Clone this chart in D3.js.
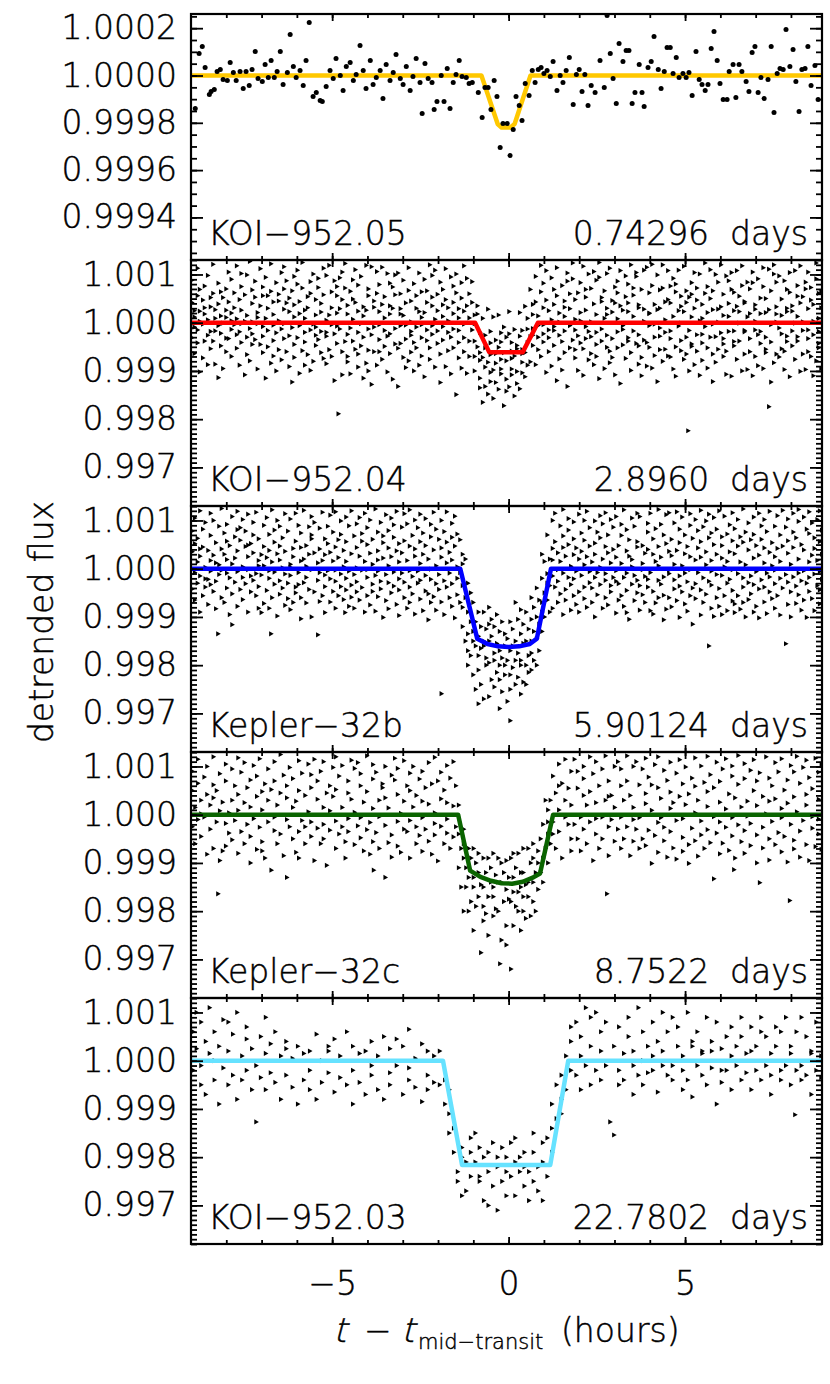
<!DOCTYPE html>
<html><head><meta charset="utf-8">
<script src="https://cdn.jsdelivr.net/npm/d3@7"></script>
<style>
body{margin:0;background:#fff}
svg text{font-family:"DejaVu Sans",sans-serif;font-weight:200;fill:#000;stroke:#000;stroke-width:0.45px}
</style>
</head><body>
<svg id="c" width="830" height="1384"></svg>
<script>
// ---------------- DATA ----------------
const panelNames = ["KOI\u2212952.05","KOI\u2212952.04","Kepler\u221232b","Kepler\u221232c","KOI\u2212952.03"];
const panelPeriods = ["0.74296  days","2.8960  days","5.90124  days","8.7522  days","22.7802  days"];
const modelColors = ["#ffc800","#ff0000","#0000ff","#0a6400","#66e2ff"];
const yTicksTop = [1.0002,1.0000,0.9998,0.9996,0.9994];
const yTickLabelsTop = ["1.0002","1.0000","0.9998","0.9996","0.9994"];
const yTicks = [1.001,1.000,0.999,0.998,0.997];
const yTickLabels = ["1.001","1.000","0.999","0.998","0.997"];
const xTicks = [-5,0,5];
const xTickLabels = ["\u22125","0","5"];

// flux offsets from 1 in ppm; time in hours from mid-transit
const model05 = [[-9,0],[-0.77,0],[-0.31,-205],[-0.2,-220],[0.05,-220],[0.17,-205],[0.62,0],[8.9,0]];
const model04 = [[-9,0],[-0.95,0],[-0.55,-610],[0.4,-610],[0.83,0],[8.9,0]];
const model32b = [[-9,0],[-1.37,0],[-0.89,-1450],[-0.6,-1560],[-0.3,-1610],[0,-1625],[0.3,-1610],[0.6,-1560],[0.8,-1450],[1.2,0],[8.9,0]];
const model32c = [[-9,0],[-1.43,0],[-1.09,-1160],[-0.8,-1290],[-0.5,-1370],[-0.2,-1420],[0.1,-1430],[0.4,-1390],[0.7,-1300],[0.89,-1220],[1.26,0],[8.9,0]];
const model03 = [[-9,0],[-1.86,0],[-1.32,-2160],[1.18,-2160],[1.69,0],[8.9,0]];

// KOI-952.05 points [t, ppm]
const pts05 = [[-8.88,-140],[-8.77,93],[-8.68,123],[-8.6,34],[-8.48,-80],[-8.43,-68],[-8.34,-59],[-8.26,17],[-8.17,25],[-8.09,-17],[-7.97,-21],[-7.89,55],[-7.8,13],[-7.72,-21],[-7.61,17],[-7.52,-55],[-7.44,17],[-7.35,-42],[-7.27,25],[-7.18,101],[-7.1,-13],[-6.98,-25],[-6.9,47],[-6.81,-8],[-6.73,63],[-6.64,-8],[-6.56,17],[-6.47,101],[-6.39,-38],[-6.27,13],[-6.19,173],[-6.1,38],[-6.02,-8],
[-5.91,21],[-5.82,-42],[-5.74,63],[-5.65,224],[-5.54,-89],[-5.45,-72],[-5.34,-106],[-5.28,-110],[-5.17,-47],[-5.06,21],[-4.97,-13],[-4.89,72],[-4.77,0],[-4.69,-63],[-4.6,38],[-4.49,55],[-4.4,-21],[-4.32,4],[-4.21,127],[-4.12,21],[-4.04,-55],[-3.92,63],[-3.84,-38],[-3.75,-8],[-3.64,21],[-3.56,-97],[-3.47,47],[-3.36,-21],[-3.27,13],[-3.19,89],[-3.07,-13],[-2.99,-38],[-2.9,38],[-2.79,-63],[-2.71,-4],[-2.62,72],[-2.51,-30],
[-2.45,-161],[-2.37,51],[-2.28,-13],[-2.17,-30],[-2.11,-144],[-2.03,-110],[-1.91,0],[-1.83,-110],[-1.74,30],[-1.66,-140],[-1.57,-30],[-1.49,4],[-1.4,63],[-1.32,-4],[-1.2,-8],[-1.12,-34],[-1.03,-30],[-0.86,-72],[-0.75,-178],[-0.67,-51],[-0.58,-51],[-0.5,-144],[-0.41,-21],[-0.33,-89],[-0.24,-304],[-0.16,-203],[-0.04,-203],[0.04,-338],[0.13,-228],[0.21,-89],[0.3,-127],[0.38,-190],[0.47,-34],[0.58,-85],[0.67,21],[0.75,-30],[0.84,25],[0.92,34],[1.0,8],[1.09,21],[1.18,-4],[1.26,59],[1.37,-63],[1.46,0],[1.54,-30],[1.63,21],[1.72,76],[1.83,-123],[1.92,4],[2.0,25],[2.08,-68],[2.16,4],[2.25,-127],[2.34,-42],[2.45,-72],[2.59,63],[2.71,-51],
[2.79,254],[2.88,93],[2.96,-13],[3.05,-118],[3.13,135],[3.24,59],[3.33,106],[3.41,106],[3.5,-118],[3.58,-72],[3.7,47],[3.78,-72],[3.84,-131],[3.95,34],[4.04,59],[4.12,165],[4.24,25],[4.32,-55],[4.41,17],[4.49,118],[4.58,118],[4.66,8],[4.75,76],[4.83,-8],[4.94,8],[5.03,-8],[5.11,13],[5.2,-85],[5.31,101],[5.4,-17],[5.48,-38],[5.57,-63],[5.65,-38],[5.74,114],[5.82,186],[5.91,63],[5.99,-34],[6.08,-101],[6.19,-101],[6.25,17],[6.36,47],[6.44,-93],[6.53,47],[6.61,17],[6.73,-25],[6.81,-68],[6.9,97],[6.98,123],[7.07,-72],[7.15,-8],[7.24,-97],[7.35,-17],[7.44,123],[7.52,-156],[7.61,8],[7.69,30],[7.78,25],[7.86,194],[7.97,38],[8.06,110],[8.14,-25],[8.23,-152],[8.31,25],[8.4,30],[8.48,123],[8.57,-42],[8.68,42],[8.77,-101]];

// other panels: groups of points sharing a time [t, [ppm, ...]]
const cols04 = [
[-8.97,[420,-310,880]],[-8.9,[120,-640,250,-90]],[-8.81,[560,-150,1130,-420]],[-8.75,[240,-1020,30,690]],[-8.66,[-30,470,-730]],[-8.61,[-380,180,760,310]],[-8.52,[-260,980,60,-870]],[-8.44,[330,-540,-180,520]],[-8.37,[-380,610,1210]],[-8.31,[-170,270,-860,90]],[-8.22,[-60,390,820,-1140]],[-8.15,[-480,-220,140,640]],[-8.09,[-950,520,-10]],[-8.0,[-600,700,260,-320,110]],[-7.93,[1050,-330,430]],[-7.85,[200,-140,900,-700,40]],[-7.77,[310,620,-40]],[-7.7,[-250,1180,-530,80]],[-7.62,[-880,480,-190]],[-7.57,[750,-410,260,-20,1020]],[-7.47,[-1080,30,580]],[-7.41,[990,-300,-660,150]],[-7.33,[1270,-120,-790]],[-7.26,[400,680,-230,20,-450]],[-7.18,[-350,860,530]],[-7.11,[-20,-960,210,110]],[-7.03,[-450,1120,350]],[-6.96,[-80,-620,740,-280,560]],[-6.88,[90,-1150,940]],[-6.82,[560,-160,-500,300]],[-6.73,[-840,650,1220]],[-6.66,[-50,-370,170,-690,430]],[-6.58,[830,-210,-1000]],[-6.51,[450,40,590,-560]],[-6.43,[1040,-130,-770]],[-6.36,[280,700,-330,1160,-20]],[-6.29,[-600,410,870]],[-6.21,[-910,230,-270,510]],[-6.13,[-1230,660,-100]],[-6.07,[120,-450,960,370,-720]],[-5.98,[800,-310,1090]],[-5.92,[190,-1050,-60,440]],[-5.84,[-580,720,1250]],[-5.77,[-200,260,-880,-400,90]],[-5.69,[540,-660,310]],[-5.61,[850,-150,-990,610]],[-5.53,[-30,1010,-800]],[-5.46,[-470,-260,160,480,-90]],[-5.39,[730,-350,920]],[-5.31,[220,-620,-180,400]],[-5.24,[-740,580,1130]],[-5.16,[50,-200,-850,980,-280]],[-5.08,[160,-560,1190]],[-5.01,[640,-40,-700,310]],[-4.93,[-230,870,-1200]],[-4.86,[-430,200,560,-70,750]],[-4.82,[-1890]],[-4.78,[930,-130,290]],[-4.71,[-1080,480,-600,1050]],[-4.63,[-390,720,1230]],[-4.56,[180,-810,-240,360,-700]],[-4.48,[-110,650,-1060]],[-4.41,[490,70,-380,890]],[-4.34,[-550,1100,420]],[-4.26,[240,-920,-200,-650,780]],[-4.18,[-20,960,-480]],[-4.11,[-1150,330,-300,140]],[-4.03,[-840,1190,260]],[-3.97,[560,-130,-570,-1000,700]],[-3.88,[-250,1160,-1280]],[-3.81,[450,-600,-90,320]],[-3.73,[610,1060,-880]],[-3.66,[-350,-40,-600,230,790]],[-3.58,[380,1150,-760]],[-3.51,[-160,-490,100,540]],[-3.43,[-280,1020,-1020]],[-3.36,[-640,350,-230,820,180]],[-3.28,[740,-1170,300]],[-3.21,[-440,580,990,-120]],[-3.13,[-530,-1320,1030]],[-3.06,[290,600,-60,-430,180]],[-2.98,[150,-720,880]],[-2.91,[410,-340,-50,-930]],[-2.83,[670,1140,-790]],[-2.76,[-260,-610,20,450,-180]],[-2.68,[-410,810,-1000]],[-2.61,[300,-90,560,-520]],[-2.53,[230,1030,-880]],[-2.46,[-690,-310,110,640,-40]],[-2.38,[900,-1120,210]],[-2.31,[-150,420,660,-370]],[-2.23,[-520,1200,-760]],[-2.16,[-60,350,530,-240,980]],[-2.08,[70,-920,1090]],[-2.01,[590,-430,250,-170]],[-1.93,[-650,840,-1240]],[-1.86,[370,-80,130,-360,690]],[-1.78,[480,1120,-910]],[-1.71,[-580,-200,310,40]],[-1.63,[-300,950,-1060]],[-1.56,[760,190,-520,-130,420]],[-1.48,[-1490,620,1010]],[-1.41,[-160,290,-730,-410,100]],[-1.33,[-940,830,510]],[-1.26,[-30,-310,240,-600,1180]],[-1.18,[350,-1050,920]],[-1.11,[-700,100,-380,600]],
[-1.03,[-150,420,850]],[-0.96,[-700,160,-380,-1000,-20]],[-0.88,[-500,180,350]],[-0.81,[-1150,-780,-200,-1350,-620]],[-0.73,[-720,90,-1650]],[-0.66,[-1320,-260,-920,-520]],[-0.58,[-820,280,-1480]],[-0.51,[-420,-1030,-180,-660,-1220]],[-0.43,[-980,120,-1570]],[-0.36,[-640,-1240,-360,-840]],[-0.28,[-510,160,-1380]],[-0.21,[-1060,-210,-760,-400,-960]],[-0.13,[-90,-1720,-620]],[-0.06,[-1170,-1420,-300,-790]],[0.02,[-230,230,-1330]],[0.09,[-740,-410,-960,-590,-1080]],[0.17,[-140,-1520,-690]],[0.24,[-1260,-470,-1010,-540]],[0.32,[-280,210,-1370]],[0.39,[-820,-560,-1040,-160,-640]],[0.47,[-620,340,-1120]],[0.54,[-130,-880,-410,90]],[0.62,[-290,690,-810]],[0.69,[170,-470,-120,380,-260]],[0.77,[430,-870,960]],[0.84,[-300,140,-560,-60]],
[0.92,[640,1190,-700]],[0.99,[-40,310,-230,820,-400]],[1.07,[-1030,470,1080]],[1.14,[-150,250,-600,-310]],[1.22,[60,-900,930]],[1.29,[690,-80,380,-470,-160]],[1.37,[-1200,560,1140]],[1.44,[200,-260,-750,10]],[1.52,[-390,770,-980]],[1.59,[-620,130,450,-170,320]],[1.67,[860,-1320,1030]],[1.74,[-520,290,600,-60]],[1.82,[-360,910,1240]],[1.89,[70,-730,-150,480,-560]],[1.97,[-270,-990,620]],[2.04,[830,210,-420,40]],[2.12,[1170,-540,-1090]],[2.19,[-330,530,690,-80,260]],[2.27,[-180,1010,-770]],[2.34,[-640,20,710,-290]],[2.42,[1060,-870,390]],[2.49,[-450,170,880,-200,-700]],[2.57,[1250,-1160,940]],[2.64,[-130,440,520,-380]],[2.72,[90,660,-950]],[2.79,[-510,300,170,-260,1020]],[2.87,[-590,1130,-830]],[2.94,[220,460,-330,-720]],[3.02,[410,740,-1080]],[3.09,[-190,80,860,-520,620]],[3.17,[-1260,1080,350]],[3.24,[-60,-460,260,-140]],[3.32,[540,970,-740]],[3.39,[-380,230,800,-310,410]],[3.47,[-620,1200,-990]],[3.54,[-170,570,130,720]],[3.62,[-430,960,1040]],[3.69,[-480,310,-860,-250,370]],[3.77,[-720,690,-1100]],[3.84,[30,280,-360,1090]],[3.92,[-410,1150,-900]],[3.99,[200,620,-60,-510,190]],[4.07,[-940,770,1210]],[4.14,[-300,380,-680,-30]],[4.22,[270,-1220,990]],[4.29,[680,-280,-110,-560,300]],[4.37,[720,-800,1200]],[4.44,[430,-200,-550,60]],[4.52,[-690,480,1080]],[4.59,[-330,-710,410,-170,760]],[4.67,[-960,130,920]],[4.74,[800,-500,640,-1110]],[4.82,[-70,250,1090]],[4.89,[-580,340,-10,550,-370]],[4.97,[230,-760,1170]],[5.04,[660,-300,420,-650]],[5.09,[-2240]],[5.12,[-160,530,-1000]],[5.19,[120,590,-440,830,-490]],[5.27,[300,-870,1040]],[5.34,[-250,470,-590,720]],[5.42,[40,-1090,1010]],[5.49,[380,-240,-420,90,-780]],[5.57,[610,-80,1240]],[5.64,[-520,210,-940,750]],[5.72,[-300,500,1100]],[5.79,[-650,-30,270,-1220,660]],[5.87,[-290,1000,-820]],[5.94,[10,-550,280,840]],[6.02,[330,-210,1200]],[6.09,[-440,150,-700,590,-330]],[6.17,[970,-590,-1070]],[6.24,[400,-180,870,130]],[6.32,[690,-1110,1040]],[6.39,[-390,630,-170,250,-480]],[6.47,[340,1080,-760]],[6.54,[-10,550,-380,230]],[6.62,[770,1180,-1000]],[6.69,[-190,410,-650,-160,440]],[6.77,[120,840,-970]],[6.84,[700,-330,-600,190]],[6.92,[1050,-1100,830]],[6.99,[-150,370,-700,30,280]],[7.07,[-250,910,-890]],[7.14,[-430,190,510,-180]],[7.22,[1140,-950,750]],[7.29,[-620,210,-300,500,-550]],[7.38,[-1740,1110,270]],[7.44,[-40,-1230,660,-400]],[7.52,[1010,-830,1200]],[7.59,[10,-650,180,840,330]],[7.67,[-110,-710,970]],[7.74,[-540,150,490,-230]],[7.82,[-590,870,-970]],[7.89,[300,-280,230,690,-390]],[7.97,[630,-1120,1040]],[8.04,[-170,350,-480,240]],[8.12,[-10,1080,-760]],[8.19,[550,-380,130,770,-290]],[8.27,[410,1180,-1010]],[8.34,[-650,-160,540,20]],[8.42,[700,840,-970]],[8.49,[-330,-600,290,1050,-150]],[8.57,[470,-700,730]],[8.64,[30,-1100,380,-250]],[8.72,[910,1240,-790]],[8.79,[-430,90,610,-180,-520]],[8.86,[310,-950,650]]];

const cols32b = [
[-8.96,[350,-420,780]],[-8.89,[-80,520,-650,1050]],[-8.81,[140,-300,630]],[-8.74,[-900,260,1200,-150,410]],[-8.66,[450,-560,820]],[-8.59,[30,-380,960,-210]],[-8.51,[-220,380,-740]],[-8.44,[1150,170,-50,690,-330]],[-8.36,[-470,280,1000]],[-8.29,[-260,540,-830,120]],[-8.23,[-1350]],[-8.2,[80,880,-120]],[-8.13,[410,-600,1250,-30]],[-8.05,[300,-700,740]],[-7.98,[190,-400,920,-90,570]],[-7.9,[-950,480,-190]],[-7.83,[-1160,1080,100,-520]],[-7.75,[660,-280,220]],[-7.68,[1190,-780,370,-60,810]],[-7.6,[850,-430,590]],[-7.53,[-180,1020,40,-640]],[-7.45,[460,-310,780]],[-7.38,[-900,250,1130,-20,490]],[-7.3,[-150,520,-480]],[-7.23,[700,-240,330,960]],[-7.15,[-100,1170,-560]],[-7.08,[170,-370,620,-820,60]],[-7.0,[-910,290,-130]],[-6.93,[900,-720,460,60]],[-6.85,[1060,-450,230]],[-6.78,[-820,710,-200,380,-40]],[-6.73,[-1350]],[-6.7,[1220,-600,140]],[-6.63,[-320,800,-70,550]],[-6.55,[-980,310,1000]],[-6.48,[-250,470,-530,180,880]],[-6.4,[-400,20,640]],[-6.33,[-760,1140,-110,360]],[-6.25,[-620,780,-300]],[-6.18,[90,-850,1030,30,-140]],[-6.1,[420,-700,250]],[-6.03,[-500,570,-380,1150]],[-5.95,[-80,900,-330]],[-5.88,[160,-600,740,-1040,440]],[-5.8,[200,1210,-290]],[-5.73,[480,-710,50,-180]],[-5.65,[870,-430,300]],[-5.58,[-1000,620,1080,-20,700]],[-5.5,[-480,330,960]],[-5.4,[-1370,-240,120]],[-5.35,[-680,840,-80,410]],[-5.27,[-560,1170,170]],[-5.2,[-370,620,-910,290,-130]],[-5.12,[880,-40,520]],[-5.05,[-210,1110,-690,340]],[-4.97,[-470,160,760]],[-4.9,[-30,-820,450,1180,-260]],[-4.82,[600,-560,230]],[-4.75,[-110,990,-370,710]],[-4.67,[-640,380,40]],[-4.63,[-910]],[-4.6,[1070,-200,560,-440,150]],[-4.52,[-780,890,-50]],[-4.45,[310,-340,1200,-590]],[-4.37,[680,-120,-820]],[-4.3,[440,20,-480,930,-270]],[-4.22,[-650,1060,260]],[-4.15,[-30,730,-390,570]],[-4.07,[-900,150,1150]],[-4.0,[-180,500,-560,850,-20]],[-3.92,[320,-750,1010]],[-3.85,[-320,610,90,-470]],[-3.77,[1240,-140,-880]],[-3.7,[370,-580,760,-50,180]],[-3.62,[-260,960,-420]],[-3.55,[540,-1010,220,680]],[-3.47,[-120,1120,-660]],[-3.4,[430,-290,790,-830,60]],[-3.32,[-500,1050,250]],[-3.25,[-70,650,-360,910]],[-3.17,[-740,370,1190]],[-3.1,[-210,520,-970,140,-440]],[-3.02,[860,-90,330]],[-2.95,[-600,1140,-280,580]],[-2.87,[170,-820,930]],[-2.8,[-380,470,-40,1220,-700]],[-2.72,[-160,690,-520]],[-2.65,[1010,260,-940,410]],[-2.57,[-300,850,-50]],[-2.5,[-630,560,1130,-240,110]],[-2.42,[-870,300,740]],[-2.35,[-140,1040,-460,480]],[-2.27,[-520,200,-1060]],[-2.2,[660,-220,920,-10,-700]],[-2.12,[390,-580,1170]],[-2.05,[-310,820,60,-860]],[-1.97,[-120,610,-430]],[-1.9,[-2590,240,1000,-690,430]],[-1.82,[-250,770,-950]],[-1.75,[120,1180,-380,550]],[-1.67,[-600,340,-90]],[-1.6,[940,-780,180,650,-310]],[-1.52,[-1020,470,1090]],[-1.45,[-200,720,-540,40]],
[-1.37,[-80,600,-700]],[-1.3,[-350,-800,100,-1200,300]],[-1.22,[-600,-1500,200]],[-1.15,[-1700,-900,-300,-2000,-1350]],[-1.07,[-1100,-1800,-500]],[-1.0,[-1500,-2200,-1300,-700]],[-0.93,[-2500,-1100,-1600]],[-0.85,[-1800,-2100,-900,-1400,-2800]],[-0.78,[-1200,-1650,-2400]],[-0.7,[-1600,-900,-1500,-2700]],[-0.63,[-2000,-1250,-1850]],[-0.55,[-1500,-2650,-1150,-1950,-800]],[-0.48,[-1400,-2300,-1050]],[-0.4,[-1900,-1750,-2450,-1200]],[-0.33,[-2150,-1550,-950]],[-0.25,[-2300,-1700,-2000,-2900,-1300]],[-0.18,[-1850,-1100,-2550]],[-0.1,[-2000,-1600,-2200,-1350]],[-0.03,[-2750,-1450,-1900]],[0.05,[-3150,-1100,-2200,-1700,-2500]],[0.12,[-1600,-2050,-1250]],[0.2,[-1500,-700,-2400,-1900]],[0.27,[-2250,-1050,-1750]],[0.35,[-1900,-2600,-1350,-850,-2000]],[0.42,[-1550,-2350,-1150]],[0.5,[-2400,-1500,-900,-2000]],[0.57,[-1250,-1800,-2150]],[0.65,[-1750,-600,-1500,-2100,-1050]],[0.72,[-1300,-1900,-800]],[0.8,[-1000,-1450,-400,-2000]],[0.87,[-1150,-650,-1700]],[0.95,[-700,-200,-900,300,-1300]],[1.02,[-500,-1000,150]],[1.1,[-300,700,-650,-100]],[1.17,[-900,200,-350]],
[1.25,[420,-150,1000,-820,180]],[1.32,[560,-380,1150]],[1.4,[-20,-700,330,-260]],[1.47,[890,-520,150]],[1.55,[680,-950,440,-90,1230]],[1.62,[-430,260,-650]],[1.7,[800,-180,500,1040]],[1.77,[-860,50,-330]],[1.85,[620,-560,290,970,-210]],[1.92,[-740,430,-50]],[2.0,[1130,-480,200,-900]],[2.07,[740,-140,360]],[2.15,[-620,1000,80,-380,590]],[2.22,[-800,250,1190]],[2.3,[-290,470,-60,850]],[2.37,[-700,140,-400]],[2.45,[990,-180,530,-1000,300]],[2.52,[-80,760,-540]],[2.6,[1100,30,-330,640]],[2.67,[-820,200,930]],[2.75,[-240,460,-600,1160,-100]],[2.82,[330,-750,700]],[2.9,[-350,120,1020,-480]],[2.97,[400,-180,860]],[3.05,[-920,240,-260,1080,-40]],[3.12,[-650,480,-310]],[3.2,[920,110,-560,690]],[3.27,[-180,1220,-780]],[3.35,[-910,370,-90,810,-450]],[3.42,[260,-1050,600]],[3.5,[40,1050,-320,190]],[3.57,[-660,880,-140]],[3.65,[450,-500,1150,-240,560]],[3.72,[-860,1080,-350]],[3.8,[-20,480,-540,110]],[3.87,[-700,320,-160]],[3.95,[940,-380,760,-220,400]],[4.02,[-870,1150,-80]],[4.1,[620,-940,300,-470]],[4.17,[830,150,-710]],[4.25,[1230,-240,460,-600,60]],[4.32,[920,-320,240]],[4.4,[-550,700,-1060,-170]],[4.47,[520,-840,1120]],[4.55,[-30,360,-600,1160,-100]],[4.62,[270,-790,610]],[4.7,[-420,90,950,-230]],[4.77,[1180,-660,380]],[4.85,[-150,540,-1010,820,-360]],[4.92,[60,-480,1070]],[5.0,[-730,310,700,-90]],[5.07,[460,-270,-880]],[5.15,[1140,-20,-560,250,900]],[5.22,[-400,630,-1150]],[5.3,[180,-310,1020,-620]],[5.37,[790,-80,430]],[5.45,[-960,240,-440,1210,560]],[5.52,[-190,870,-700]],[5.6,[350,-530,80,990]],[5.68,[-1600,-260,640,1130]],[5.75,[-820,170,-340,740,-50]],[5.82,[500,-990,1060]],[5.9,[-120,820,-600,300]],[5.97,[1200,-410,-780]],[6.05,[220,-140,660,-950,480]],[6.12,[-560,1090,40]],[6.2,[-300,720,-870,150]],[6.27,[910,-220,350]],[6.35,[-670,1160,-20,-450,580]],[6.41,[-910,310,-730,830]],[6.5,[-100,470,-560,1020]],[6.57,[-840,660,140]],[6.65,[-380,1240,-190,550,-700]],[6.72,[80,-1000,760]],[6.8,[-290,390,950,-640]],[6.87,[600,-150,-520]],[6.95,[1070,-900,220,-330,710]],[7.02,[-60,480,-780]],[7.1,[1150,-420,280,-1020]],[7.17,[-230,610,890]],[7.25,[-690,120,-380,1020,430]],[7.32,[-930,770,-90]],[7.4,[340,-480,1190,-170]],[7.47,[-620,540,60]],[7.55,[880,-310,-820,250,-30]],[7.62,[1100,-560,420]],[7.7,[-200,700,-960,150]],[7.77,[470,-400,1210]],[7.86,[-1556,-120,860]],[7.92,[-740,320,1030,-280,580]],[8.0,[-480,90,-1000]],[8.07,[760,-170,440,1150]],[8.15,[-360,-720,640]],[8.22,[200,980,-540,-90,1230]],[8.3,[-860,500,-250]],[8.37,[1070,-40,390,-650]],[8.45,[-300,820,-1010]],[8.52,[140,-470,730,1180,-180]],[8.6,[-620,280,950]],[8.67,[-110,640,-870,420]],[8.75,[1020,-350,170]],[8.82,[-730,560,-60,1200,-440]],[8.88,[300,-220,800]]];

const cols32c = [
[-8.96,[500,-250,900]],[-8.88,[150,-600]],[-8.8,[650,-100,1150]],[-8.71,[300,-450,20]],[-8.62,[780,-50]],[-8.54,[420,-820,1000]],[-8.45,[200,-300]],[-8.36,[620,-700,350,1200]],[-8.27,[-150,500]],[-8.23,[-1640]],[-8.18,[-950,80,850]],[-8.1,[-750,260]],[-8.01,[1050,-180,-650,700]],[-7.92,[40,-380]],[-7.83,[950,300,-520]],[-7.75,[600,-120]],[-7.66,[1180,-800,420,90]],[-7.57,[-350,880]],[-7.48,[-600,250,1080]],[-7.4,[-200,560]],[-7.31,[-1000,160,720,-450]],[-7.22,[1020,-80]],[-7.13,[380,-720,800]],[-7.05,[-260,1160]],[-6.98,[-750,100,-560,480]],[-6.9,[-900,640]],[-6.81,[-150,950,300]],[-6.72,[-1150,520]],[-6.63,[-330,1100,-50,700]],[-6.55,[-600,200]],[-6.46,[1250,-400,450]],[-6.37,[-850,820]],[-6.28,[-100,350,-1300,600]],[-6.2,[-250,980]],[-6.11,[150,-500,750]],[-6.02,[-780,280]],[-5.94,[1120,-350,500,-900]],[-5.85,[860,-120]],[-5.76,[-600,400,-250]],[-5.67,[1050,60]],[-5.59,[-450,830,-150,560]],[-5.5,[-950,1150]],[-5.41,[320,-280,700]],[-5.32,[-600,900]],[-5.24,[-200,1100,150,-500]],[-5.15,[450,-1050]],[-5.06,[600,80,-320]],[-4.97,[980,380]],[-4.89,[-700,1200,-130,520]],[-4.8,[-400,800]],[-4.71,[-250,150,1020]],[-4.62,[-560,-900]],[-4.54,[450,-80,700,-350]],[-4.45,[1130,320]],[-4.36,[-620,960,50]],[-4.27,[-230,1080]],[-4.19,[-480,600,-60,850]],[-4.1,[-750,260]],[-4.01,[1220,-310,480]],[-3.92,[-820,-160]],[-3.84,[740,-560,1040,130]],[-3.82,[-1150]],[-3.75,[-370,880]],[-3.66,[-700,300,-40]],[-3.57,[640,560]],[-3.49,[-1300,1000,-220,350]],[-3.4,[-580,140]],[-3.31,[-420,820,-880]],[-3.22,[1170,720]],[-3.14,[-140,420,-650,960]],[-3.05,[30,-780]],[-2.96,[280,1120,-300]],[-2.87,[600,-350]],[-2.79,[500,-900,860,-120]],[-2.7,[1000,160]],[-2.61,[-600,400,-250]],[-2.52,[740,-430]],[-2.44,[900,-760,280,-60]],[-2.35,[560,-300]],[-2.26,[1080,-550,220]],[-2.17,[-820,640]],[-2.09,[-180,1190,40,-420]],[-2.0,[700,-960]],[-1.91,[330,-240,880]],[-1.82,[-600,510]],[-1.74,[-90,1020,-380,250]],[-1.65,[-700,760]],[-1.56,[180,-460,1100]],[-1.49,[-250,600]],
[-1.41,[-400,-1100,200]],[-1.34,[-700,-1500]],[-1.27,[-300,-900,-2000,-600]],[-1.2,[-1500,-1100]],[-1.13,[-1300,-2000,-700]],[-1.06,[-1800,-900]],[-0.99,[-1300,-2400,-700,-1500]],[-0.92,[-1900,-1000]],[-0.85,[-1200,-1700,-800]],[-0.78,[-2860,-1450]],[-0.71,[-2200,-1500,-900,-1900]],[-0.64,[-1200,-2050]],[-0.57,[-900,-2500,-1700]],[-0.5,[-1100,-1400]],[-0.43,[-1700,-2100,-800,-1500]],[-0.36,[-1250,-1950]],[-0.29,[-2000,-1400,-900]],[-0.24,[-3090]],[-0.2,[-1400,-2600,-1000]],[-0.13,[-1800,-1200]],[-0.06,[-2300,-1550,-2700,-950]],[0.01,[-1750,-1300]],[0.07,[-3200,-1800,-900]],[0.14,[-1300,-2300,-1600,-800]],[0.21,[-1900,-1100]],[0.28,[-1600,-800,-2000]],[0.35,[-1200,-1500,-2400]],[0.42,[-2000,-1200,-1700,-700]],[0.49,[-1450,-2150]],[0.56,[-1700,-700,-1400]],[0.63,[-2100,-1000]],[0.7,[-1400,-900,-600,-1800]],[0.77,[-1200,-2000]],[0.84,[-1550,-750,-1000]],[0.91,[-500,-1200]],[0.98,[-200,-900,-1400]],[1.05,[-700,300]],[1.12,[-400,-1000,100,-150]],[1.19,[300,-600]],[1.26,[-400,800,-150]],
[1.34,[450,-700]],[1.43,[1050,100,-350,600]],[1.52,[650,-900]],[1.61,[300,-50,1150]],[1.7,[-200,550]],[1.78,[-500,900,-750,200]],[1.87,[1150,-200]],[1.96,[550,-500,900]],[2.05,[-50,-750]],[2.13,[400,1000,-300,750]],[2.22,[-600,200]],[2.31,[1200,-150,480]],[2.4,[-950,850]],[2.48,[-400,250,1100,-80]],[2.57,[-700,600]],[2.66,[-50,950,-500]],[2.75,[300,1220]],[2.79,[-1640]],[2.84,[-250,700,-850,380]],[2.92,[400,-100]],[3.01,[1000,-550,150]],[3.1,[-300,1100]],[3.19,[-700,600,-50,950]],[3.27,[-500,300]],[3.36,[1220,-250,700]],[3.45,[-850,400]],[3.54,[-100,1000,-550,150]],[3.62,[-300,1100]],[3.71,[-700,620,-60]],[3.8,[950,-500]],[3.89,[230,1170,-640,440]],[3.97,[-320,780]],[4.06,[-1010,90,620]],[4.15,[1040,-430]],[4.24,[-160,560,-780,1200]],[4.32,[340,-60]],[4.41,[-540,920,-260]],[4.5,[710,-880]],[4.59,[130,1090,-350,470]],[4.67,[-690,250]],[4.76,[860,-120,-920]],[4.85,[1140,380]],[4.94,[-470,-80,640,-760]],[5.02,[990,210]],[5.11,[-620,430,-1010]],[5.2,[760,-280]],[5.29,[1180,-540,40,590]],[5.37,[-860,300]],[5.46,[-130,1010,-420]],[5.55,[670,-700]],[5.64,[170,-310,1210,480]],[5.72,[-580,830]],[5.82,[-1330,-40,560]],[5.9,[1090,-380]],[5.99,[-810,260,690,-150]],[6.07,[950,-590]],[6.16,[-260,1160,120]],[6.25,[-740,430]],[6.34,[800,-60,-440,1010]],[6.39,[-1140]],[6.42,[-900,350]],[6.51,[630,1230,-210]],[6.6,[-560,160]],[6.69,[1060,-330,750,-800]],[6.77,[280,-30]],[6.86,[-640,920,-180]],[6.95,[500,1140]],[7.04,[-1000,190,-420,700]],[7.12,[-1410,870]],[7.21,[-260,380,-690]],[7.3,[1200,20]],[7.39,[-500,760,-940,280]],[7.47,[600,-140]],[7.56,[1080,-620,330]],[7.65,[-370,890]],[7.74,[-770,130,1160,-60]],[7.82,[510,-450]],[7.91,[-980,720,240]],[7.97,[-1780]],[8.0,[1020,-200]],[8.09,[-530,370,890,-710]],[8.17,[60,1210]],[8.26,[-340,650,-880]],[8.35,[980,-120]],[8.44,[-620,420,1130,200]],[8.52,[-950,770]],[8.61,[-280,540,-40]],[8.7,[1170,-660]],[8.79,[320,-400,880,-90]],[8.87,[-720,1050]]];

const cols03 = [
[-8.93,[600,-200]],[-8.84,[1000,250]],[-8.71,[-500,800,-100]],[-8.58,[400,-700]],[-8.47,[1100,150]],[-8.33,[0,-400,600]],[-8.2,[-900,300]],[-8.08,[-150,850]],[-7.94,[800,-500,200]],[-7.81,[-300,550]],[-7.69,[-800,1000]],[-7.55,[100,-400]],[-7.42,[450,-200,700]],[-7.27,[-600,250]],[-7.15,[-1270,-100]],[-7.02,[500,-350]],[-6.88,[150,-600,900]],[-6.74,[350,-250]],[-6.61,[600,-450]],[-6.45,[100,-800]],[-6.3,[250,-300,400]],[-6.12,[-550,50]],[-5.97,[-900,300]],[-5.8,[-400,150]],[-5.63,[-200,-600,200]],[-5.44,[550,-800]],[-5.29,[0,-450]],[-5.1,[300,-250,200]],[-4.93,[-650,450]],[-4.77,[-350,100]],[-4.58,[-500,600]],[-4.41,[-200,-900,300]],[-4.22,[-450,150]],[-4.05,[-700,200]],[-3.88,[-100,400,-300]],[-3.7,[-600,100]],[-3.53,[-800,500]],[-3.36,[-250,250,-500]],[-3.17,[-100,450]],[-2.99,[-700,300]],[-2.82,[-150,650,-400]],[-2.64,[-550,50]],[-2.45,[350,-850]],[-2.29,[-300,200,-600]],[-2.11,[100,-450]],
[-1.95,[-500,200]],[-1.8,[-900,-400]],[-1.68,[-1100,-600,-1500]],[-1.55,[-1900,-1400]],[-1.44,[-2300,-2500]],[-1.32,[-1800,-2000,-2800]],[-1.2,[-2700,-2100]],[-1.07,[-1600,-2400,-1900]],[-0.94,[-2100,-1500]],[-0.82,[-2500,-2400,-1800]],[-0.7,[-2900,-2000]],[-0.57,[-3000,-1900,-2300]],[-0.44,[-2600,-1700]],[-0.31,[-2000,-2200,-3100]],[-0.18,[-1800,-2500]],[-0.06,[-2000,-2800,-2300]],[0.07,[-1700,-2400]],[0.19,[-2100,-2800,-1600]],[0.32,[-2300,-2000]],[0.45,[-2600,-1900,-2200]],[0.58,[-2300,-2900]],[0.71,[-1500,-1900,-2500]],[0.84,[-2200,-2700]],[0.97,[-1700,-2100,-2900]],[1.1,[-2400,-1600]],[1.23,[-1400,-1900,-900]],[1.36,[-1200,-500]],[1.5,[-800,-300,-1100]],[1.63,[-600,100]],
[1.77,[400,-200,700]],[1.92,[-300,800]],[2.05,[100,-600,500]],[2.19,[-100,1100]],[2.33,[-500,300,900]],[2.48,[-200,1000]],[2.62,[-400,200,600]],[2.76,[-100,800]],[2.88,[-1270]],[2.99,[-1540,300]],[3.13,[-200,700,-500]],[3.27,[-400,150]],[3.4,[900,500]],[3.54,[-700,200,-100]],[3.68,[-300,1100]],[3.81,[0,600,-500]],[3.95,[300,-250]],[4.09,[-200,800,100]],[4.23,[400,-650]],[4.37,[-100,1000,200]],[4.51,[-300,600]],[4.65,[-400,900,-100]],[4.8,[300,700]],[4.94,[-200,-600,100]],[5.08,[1000,-400]],[5.21,[400,-750,300]],[5.35,[-100,600]],[5.49,[200,-300,150]],[5.62,[900,-500]],[5.76,[200,-150,400]],[5.9,[-900,800]],[6.04,[-200,250,-450]],[6.18,[500,-200]],[6.32,[700,100,-600]],[6.46,[300,-100]],[6.6,[900,-400,500]],[6.74,[-250,150]],[6.88,[700,-600,200]],[7.02,[300,-200]],[7.16,[600,-400,900]],[7.3,[-100,500]],[7.44,[-300,150,-700]],[7.58,[700,300]],[7.72,[-200,600,-400]],[7.86,[900,-100]],[8.0,[-500,150,300]],[8.12,[-1120]],[8.16,[-200,600]],[8.3,[-400,900,-100]],[8.44,[500,-300]],[8.58,[150,-700,200]],[8.72,[-200,800]],[8.86,[100,-350]]];

// ---------------- LAYOUT ----------------
const svg = d3.select("#c");
const left = 191, right = 822, top0 = 14, ph = 246;
const x = d3.scaleLinear().domain([-9.0, 8.88]).range([left, right]);
const flatten = cols => cols.flatMap(([t, v]) => v.map(p => [t, p]));
const minor2 = d3.range(9962, 10014).map(k => k * 0.0001);
const panels = [
  {pts: pts05, model: model05, dom: [0.99922, 1.00026], ticks: yTicksTop, labels: yTickLabelsTop,
   minor: d3.range(19985, 20006).map(k => k * 0.00005), dot: true},
  {pts: flatten(cols04), model: model04, dom: [0.9962, 1.0013], ticks: yTicks, labels: yTickLabels, minor: minor2},
  {pts: flatten(cols32b), model: model32b, dom: [0.9962, 1.0013], ticks: yTicks, labels: yTickLabels, minor: minor2},
  {pts: flatten(cols32c), model: model32c, dom: [0.9962, 1.0013], ticks: yTicks, labels: yTickLabels, minor: minor2},
  {pts: flatten(cols03), model: model03, dom: [0.9962, 1.0013], ticks: yTicks, labels: yTickLabels, minor: minor2}
];
const xMinor = d3.range(-8, 9);
const tri = "M-2,-2.6L2.6,0L-2,2.6Z";

panels.forEach((p, i) => {
  const t = top0 + i * ph;
  const y = d3.scaleLinear().domain(p.dom).range([t + ph, t]);
  const g = svg.append("g");
  const cid = "clip" + i;
  svg.append("clipPath").attr("id", cid).append("rect")
    .attr("x", left).attr("y", t).attr("width", right - left).attr("height", ph);
  const plot = g.append("g").attr("clip-path", `url(#${cid})`);
  const flux = d => 1 + d[1] * 1e-6;
  const lineGen = d3.line().x(d => x(d[0])).y(d => y(flux(d)));
  const drawLine = () => plot.append("path").datum(p.model).attr("d", lineGen)
      .attr("fill", "none").attr("stroke", modelColors[i]).attr("stroke-width", 4.5)
      .attr("stroke-linejoin", "round");
  if (p.dot) {
    drawLine();
    plot.selectAll("circle").data(p.pts).join("circle")
      .attr("cx", d => x(d[0])).attr("cy", d => y(flux(d))).attr("r", 2.5).attr("fill", "#000");
  } else {
    plot.selectAll("path.pt").data(p.pts).join("path").attr("class", "pt")
      .attr("d", tri).attr("transform", d => `translate(${x(d[0])},${y(flux(d))})`).attr("fill", "#000");
    drawLine();
  }
  const ax = (gen, tx, ty) => {
    const a = g.append("g").attr("transform", `translate(${tx},${ty})`).call(gen);
    a.select(".domain").remove();
    a.selectAll("line").attr("stroke", "#000").attr("stroke-width", 1.8);
    return a;
  };
  const yl = ax(d3.axisLeft(y).tickValues(p.ticks).tickSize(-12).tickPadding(14)
      .tickFormat((d, k) => p.labels[k]), left, 0);
  yl.selectAll("text").attr("font-size", 33).attr("font-family", null);
  ax(d3.axisLeft(y).tickValues(p.minor).tickSize(-6).tickFormat(""), left, 0);
  ax(d3.axisRight(y).tickValues(p.ticks).tickSize(-12).tickFormat(""), right, 0);
  ax(d3.axisRight(y).tickValues(p.minor).tickSize(-6).tickFormat(""), right, 0);
  ax(d3.axisTop(x).tickValues(xTicks).tickSize(-7).tickFormat(""), 0, t);
  ax(d3.axisTop(x).tickValues(xMinor).tickSize(-4).tickFormat(""), 0, t);
  const xb = ax(d3.axisBottom(x).tickValues(xTicks).tickSize(-7)
      .tickPadding(28).tickFormat((d, k) => i === 4 ? xTickLabels[k] : ""), 0, t + ph);
  xb.selectAll("text").attr("font-size", 33).attr("font-family", null);
  ax(d3.axisBottom(x).tickValues(xMinor).tickSize(-4).tickFormat(""), 0, t + ph);
  g.selectAll(".tick text").attr("fill", "#000");
  g.append("rect").attr("x", left).attr("y", t).attr("width", right - left).attr("height", ph)
    .attr("fill", "none").attr("stroke", "#000").attr("stroke-width", 2.2);
  g.append("text").attr("x", 208).attr("y", t + ph - 15).attr("font-size", 33).text(panelNames[i]);
  g.append("text").attr("x", 808).attr("y", t + ph - 15).attr("font-size", 33)
    .attr("text-anchor", "end").style("white-space", "pre").text(panelPeriods[i]);
});

// axis titles
svg.append("text").attr("transform", "translate(53,622) rotate(-90)")
  .attr("text-anchor", "middle").attr("font-size", 33).text("detrended flux");
svg.append("text").attr("transform", "translate(333,1342) skewX(-15)").attr("font-size", 34).text("t");
svg.append("text").attr("x", 364).attr("y", 1342).attr("font-size", 33).text("\u2212");
svg.append("text").attr("transform", "translate(401,1342) skewX(-15)").attr("font-size", 34).text("t");
svg.append("text").attr("x", 418).attr("y", 1349).attr("font-size", 21).text("mid\u2212transit");
svg.append("text").attr("x", 561).attr("y", 1342).attr("font-size", 33).text("(hours)");
</script>
</body></html>
